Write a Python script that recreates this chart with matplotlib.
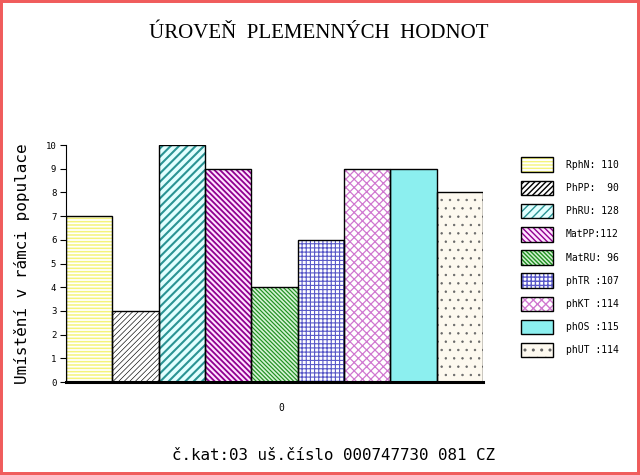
"""Bar chart of breeding values (Úroveň plemenných hodnot) with hatched bars."""
import matplotlib

matplotlib.use("Agg")
import matplotlib.pyplot as plt
from matplotlib.legend_handler import HandlerTuple
from matplotlib.patches import Patch, Rectangle

# --- data ---
traits = ["RphN", "PhPP", "PhRU", "MatPP", "MatRU", "phTR", "phKT", "phOS", "phUT"]
placement = [7, 3, 10, 9, 4, 6, 9, 9, 8]
legend_labels = [
    "RphN: 110",
    "PhPP:  90",
    "PhRU: 128",
    "MatPP:112",
    "MatRU: 96",
    "phTR :107",
    "phKT :114",
    "phOS :115",
    "phUT :114",
]
yticks = list(range(0, 11))
group_label = "0"
title = "ÚROVEŇ  PLEMENNÝCH  HODNOT"
ylabel = "Umístění v rámci populace"
footer = "č.kat:03 uš.číslo 000747730 081 CZ"

# (face colour, hatch colour, hatch, hatch linewidth) per bar
styles = [
    ("white", "#f4f47a", "-----", 1.1),
    ("white", "black", "//////", 0.45),
    ("#e2ffff", "#2a9494", "////", 1.5),
    ("#ffe4ff", "#900090", "\\" * 6, 1.3),
    ("#d4f2d4", "#1f8f1f", "\\" * 8, 0.85),
    ("white", "#5858c8", "++++", 0.8),
    ("white", "#d078d0", "xxxx", 0.9),
    ("#8cefef", "#8cefef", "", 0.5),
    ("#fdf9ef", "#666666", "..", 0.5),
]

MONO = "DejaVu Sans Mono"

fig = plt.figure(figsize=(6.4, 4.75), dpi=100)
ax = fig.add_axes([66 / 640, 1 - 382 / 475, 417 / 640, 237 / 475])

x = list(range(len(traits)))
handles = []
for xi, val, (face, hcol, hatch, hlw) in zip(x, placement, styles):
    hatched = ax.bar(xi, val, width=1.0, color=face, edgecolor=hcol, hatch=hatch,
                     linewidth=0, zorder=2)[0]
    if hasattr(hatched, "set_hatch_linewidth"):
        hatched.set_hatch_linewidth(hlw)
    ax.bar(xi, val, width=1.0, fill=False, edgecolor="black", linewidth=1.0, zorder=3)

    h1 = Patch(facecolor=face, edgecolor=hcol, hatch=hatch, linewidth=0)
    if hasattr(h1, "set_hatch_linewidth"):
        h1.set_hatch_linewidth(hlw)
    h2 = Patch(fill=False, edgecolor="black", linewidth=1.0)
    handles.append((h1, h2))

ax.set_xlim(-0.5, len(traits) - 0.5)
ax.set_ylim(0, 10)
ax.set_yticks(yticks)
ax.set_yticklabels([str(t) for t in yticks], fontfamily=MONO, fontsize=6.5)
ax.set_xticks([(len(traits) - 1) / 2 + 0.15])
ax.set_xticklabels([group_label], fontfamily=MONO, fontsize=7)
ax.tick_params(axis="x", length=0, pad=15)
ax.tick_params(axis="y", length=4, width=0.8, pad=3)
for side in ("top", "right"):
    ax.spines[side].set_visible(False)
ax.spines["left"].set_linewidth(0.8)
ax.spines["bottom"].set_linewidth(2.2)
ax.spines["bottom"].set_zorder(4)
ax.set_ylabel(ylabel, fontfamily=MONO, fontsize=11.5, labelpad=11)

fig.text(319 / 640, 1 - 33 / 475, title, ha="center", va="center",
         fontfamily="Liberation Serif", fontsize=15)
fig.text(334 / 640, 1 - 456 / 475, footer, ha="center", va="center",
         fontfamily=MONO, fontsize=11.4)

fig.legend(handles, legend_labels, handler_map={tuple: HandlerTuple(ndivide=1)},
           loc="upper left", bbox_to_anchor=(521 / 640, 1 - 157.5 / 475),
           frameon=False, prop={"family": MONO, "size": 7},
           handlelength=3.3, handleheight=1.92, handletextpad=1.3,
           labelspacing=0.89, borderpad=0, borderaxespad=0)

# red frame round the whole picture
fig.patches.append(Rectangle((0, 0), 1, 1, transform=fig.transFigure, fill=False,
                             edgecolor="#f05c5c", linewidth=4.3, zorder=10))

fig.savefig("out.png", dpi=100)
